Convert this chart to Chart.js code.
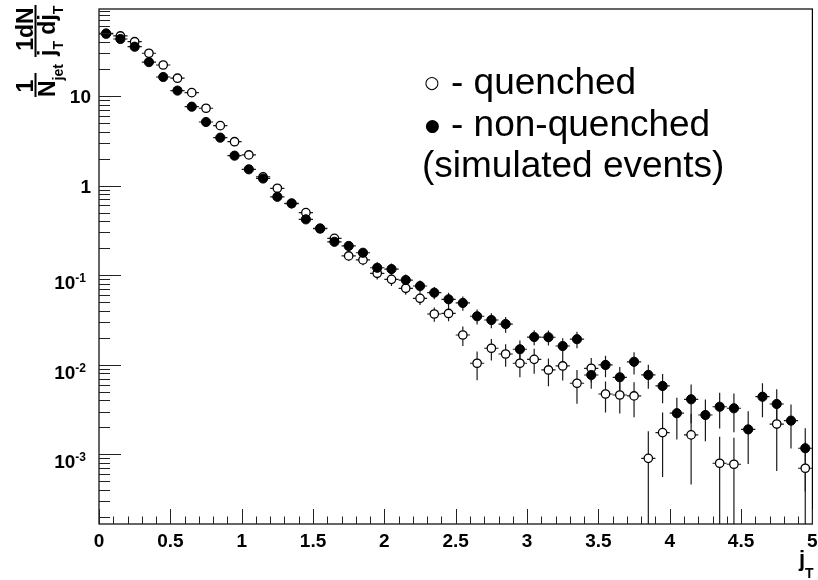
<!DOCTYPE html>
<html>
<head>
<meta charset="utf-8">
<script src="https://cdn.jsdelivr.net/npm/chart.js@4.4.1/dist/chart.umd.min.js"></script>
<style>
  html, body { margin: 0; padding: 0; background: #fff; }
  #wrap { width: 818px; height: 580px; }
</style>
</head>
<body>
<div id="wrap"><canvas id="jt" width="818" height="580"></canvas></div>
<script>
// bin centres in j_T (bin width 0.1)
const jtBins = [
  0.05, 0.15, 0.25, 0.35, 0.45, 0.55, 0.65, 0.75, 0.85, 0.95,
  1.05, 1.15, 1.25, 1.35, 1.45, 1.55, 1.65, 1.75, 1.85, 1.95,
  2.05, 2.15, 2.25, 2.35, 2.45, 2.55, 2.65, 2.75, 2.85, 2.95,
  3.05, 3.15, 3.25, 3.35, 3.45, 3.55, 3.65, 3.75, 3.85, 3.95,
  4.05, 4.15, 4.25, 4.35, 4.45, 4.55, 4.65, 4.75, 4.85, 4.95
];
const binHalfWidth = 0.05;

// 1/N_jet dN/(j_T dj_T), non-quenched jets (full circles)
const nonQuenched = [
  49.9, 43.3, 35.5, 23.9, 16.3, 11.5, 7.6, 5.13, 3.43, 2.16,
  1.52, 1.20, 0.75, 0.634, 0.42, 0.333, 0.236, 0.212, 0.178, 0.121,
  0.117, 0.0883, 0.0757, 0.0638, 0.0538, 0.049, 0.0348, 0.0316, 0.0285, 0.0149,
  0.0204, 0.0203, 0.0162, 0.0193, 0.00769, 0.00995, 0.00725, 0.0108, 0.0077, 0.0058,
  0.00288, 0.00412, 0.00275, 0.0034, 0.00327, 0.0019, 0.0044, 0.00365, 0.00238, 0.00117
];
// relative statistical errors
const nonQuenchedRelErr = [
  0.01, 0.01, 0.012, 0.014, 0.016, 0.02, 0.024, 0.028, 0.034, 0.04,
  0.045, 0.05, 0.06, 0.07, 0.08, 0.09, 0.10, 0.11, 0.12, 0.15,
  0.155, 0.155, 0.155, 0.155, 0.18, 0.18, 0.19, 0.19, 0.20, 0.25,
  0.19, 0.19, 0.22, 0.21, 0.30, 0.27, 0.30, 0.28, 0.30, 0.36,
  0.49, 0.46, 0.49, 0.43, 0.46, 0.59, 0.41, 0.46, 0.51, 0.67
];

// quenched jets (open circles), empty bins are null
const quenched = [
  49.2, 46.8, 40.4, 30.0, 22.2, 15.8, 10.9, 7.3, 4.67, 3.09,
  2.20, 1.25, 0.933, 0.63, 0.499, 0.33, 0.258, 0.164, 0.148, 0.105,
  0.0899, 0.0714, 0.0552, 0.0369, 0.0374, 0.0215, 0.0104, 0.0153, 0.0132, 0.0104,
  0.0115, 0.00875, 0.0097, 0.00622, 0.00914, 0.00472, 0.0046, 0.00449, 0.000903, 0.00175,
  null, 0.00165, null, 0.000796, 0.000776, null, null, 0.00218, null, 0.0007
];
const quenchedRelErr = [
  0.01, 0.01, 0.012, 0.014, 0.016, 0.02, 0.024, 0.028, 0.034, 0.04,
  0.045, 0.055, 0.065, 0.075, 0.085, 0.095, 0.10, 0.12, 0.13, 0.15,
  0.155, 0.155, 0.16, 0.18, 0.18, 0.245, 0.355, 0.27, 0.28, 0.30,
  0.31, 0.34, 0.31, 0.41, 0.30, 0.38, 0.38, 0.42, 1.0, 0.68,
  null, 0.72, null, 0.97, 0.97, null, null, 0.70, null, 0.95
];

const xTickLabels = ['0', '0.5', '1', '1.5', '2', '2.5', '3', '3.5', '4', '4.5', '5'];
const yTickValues = [10, 1, 0.1, 0.01, 0.001];
const yTickLabels = ['10', '1', '10^-1', '10^-2', '10^-3'];
const yMin = 1.67e-4, yMax = 93.6;

const FONT = '"Liberation Sans", Arial, Helvetica, sans-serif';

function toPoints(vals, rel) {
  return jtBins
    .map((x, i) => ({ x, y: vals[i], err: vals[i] == null ? 0 : vals[i] * rel[i] }))
    .filter(p => p.y != null);
}

// vertical + horizontal error bars, drawn under the markers
const errorBars = {
  id: 'errorBars',
  beforeDatasetsDraw(chart) {
    const { ctx, chartArea: a, scales: { x, y } } = chart;
    ctx.save();
    ctx.beginPath();
    ctx.rect(a.left, a.top, a.width, a.height);
    ctx.clip();
    ctx.strokeStyle = '#1a1a1a';
    ctx.lineWidth = 1.2;
    chart.data.datasets.forEach(ds => {
      ds.data.forEach(p => {
        const px = x.getPixelForValue(p.x);
        const py = y.getPixelForValue(p.y);
        const top = y.getPixelForValue(p.y + p.err);
        const low = p.y - p.err;
        const bot = low > yMin ? y.getPixelForValue(low) : a.bottom;
        ctx.beginPath();
        ctx.moveTo(px, bot);
        ctx.lineTo(px, top);
        ctx.moveTo(x.getPixelForValue(p.x - binHalfWidth), py);
        ctx.lineTo(x.getPixelForValue(p.x + binHalfWidth), py);
        ctx.stroke();
      });
    });
    ctx.restore();
  }
};

function drawPower(ctx, label, right, py) {
  const [base, exp] = label.split('^');
  if (!exp) {
    ctx.font = 'bold 19px ' + FONT;
    ctx.textAlign = 'right';
    ctx.fillText(base, right + 5, py + 7);
    return;
  }
  ctx.font = 'bold 12px ' + FONT;
  const ws = ctx.measureText(exp).width;
  ctx.textAlign = 'left';
  ctx.fillText(exp, right - ws, py + 7);
  ctx.font = 'bold 19px ' + FONT;
  const wb = ctx.measureText(base).width;
  ctx.fillText(base, right - ws - wb, py + 14);
}

// frame, inside ticks, tick labels, axis titles and the text box
const frameAxes = {
  id: 'frameAxes',
  afterDraw(chart) {
    const { ctx, chartArea: a, scales: { x, y } } = chart;
    ctx.save();
    ctx.strokeStyle = '#000';
    ctx.fillStyle = '#000';
    ctx.lineWidth = 1.2;
    ctx.strokeRect(a.left, a.top, a.width, a.height);

    ctx.lineWidth = 1;
    ctx.strokeStyle = '#222';
    ctx.beginPath();
    for (let k = 0; k <= 50; k++) {
      const px = Math.round(x.getPixelForValue(k / 10)) + 0.5;
      const len = k % 5 === 0 ? 15 : 7.5;
      ctx.moveTo(px, a.bottom);
      ctx.lineTo(px, a.bottom - len);
    }
    for (let e = -4; e <= 1; e++) {
      for (let m = 1; m <= 9; m++) {
        const v = m * Math.pow(10, e);
        if (v < yMin || v > yMax) continue;
        const py = Math.round(y.getPixelForValue(v)) + 0.5;
        const len = m === 1 ? 22 : 11;
        ctx.moveTo(a.left, py);
        ctx.lineTo(a.left + len, py);
      }
    }
    ctx.stroke();

    ctx.textBaseline = 'alphabetic';
    ctx.font = 'bold 19px ' + FONT;
    ctx.textAlign = 'center';
    xTickLabels.forEach(t => {
      ctx.fillText(t, x.getPixelForValue(parseFloat(t)), 547);
    });
    yTickValues.forEach((v, i) => {
      drawPower(ctx, yTickLabels[i], 86, y.getPixelForValue(v));
    });

    // x title: j_T
    ctx.textAlign = 'left';
    ctx.font = 'bold 22px ' + FONT;
    ctx.fillText('j', 799, 566);
    ctx.font = 'bold 14px ' + FONT;
    ctx.fillText('T', 805, 578);

    // y title: 1/N_jet  1dN/(j_T dj_T), rotated
    ctx.save();
    ctx.rotate(-Math.PI / 2);
    ctx.font = 'bold 23px ' + FONT;
    ctx.textAlign = 'center';
    ctx.fillText('1', -86, 33);
    ctx.fillText('1dN', -29, 33);
    ctx.fillRect(-97, 34.5, 24, 2);
    ctx.fillRect(-57, 34.5, 52, 2);
    ctx.textAlign = 'left';
    let cx = -97;
    ctx.font = 'bold 23px ' + FONT;
    ctx.fillText('N', cx, 55);
    cx += ctx.measureText('N').width;
    ctx.font = 'bold 14px ' + FONT;
    ctx.fillText('jet', cx, 63);
    const parts = [['j', 23, 55], ['T', 14, 63], [' d', 23, 55], ['j', 23, 55], ['T', 14, 63]];
    cx = -56;
    parts.forEach(([s, size, base]) => {
      ctx.font = 'bold ' + size + 'px ' + FONT;
      ctx.fillText(s, cx, base);
      cx += ctx.measureText(s).width;
    });
    ctx.restore();

    // text box
    ctx.textAlign = 'center';
    ctx.font = '17px "DejaVu Sans"';
    ctx.fillText('\u25CB', 432, 88);
    ctx.fillText('\u25CF', 432.5, 131);
    ctx.textAlign = 'left';
    ctx.font = '37px ' + FONT;
    ctx.fillText('- quenched', 451, 94);
    ctx.fillText('- non-quenched', 451, 136);
    ctx.fillText('(simulated events)', 422, 177);
    ctx.restore();
  }
};

new Chart(document.getElementById('jt'), {
  type: 'scatter',
  data: {
    datasets: [
      {
        label: 'non-quenched',
        data: toPoints(nonQuenched, nonQuenchedRelErr),
        pointStyle: 'circle',
        pointRadius: 4.6,
        backgroundColor: '#000',
        borderColor: '#000',
        borderWidth: 1,
      },
      {
        label: 'quenched',
        data: toPoints(quenched, quenchedRelErr),
        pointStyle: 'circle',
        pointRadius: 4.2,
        backgroundColor: '#fff',
        borderColor: '#000',
        borderWidth: 1.3,
      },
    ],
  },
  options: {
    responsive: false,
    animation: false,
    devicePixelRatio: 1,
    events: [],
    layout: { padding: { left: 99, right: 2, top: 9, bottom: 56 } },
    plugins: { legend: { display: false }, tooltip: { enabled: false } },
    scales: {
      x: { type: 'linear', min: 0, max: 5, display: false },
      y: { type: 'logarithmic', min: yMin, max: yMax, bounds: 'data', display: false },
    },
  },
  plugins: [errorBars, frameAxes],
});
</script>
</body>
</html>
